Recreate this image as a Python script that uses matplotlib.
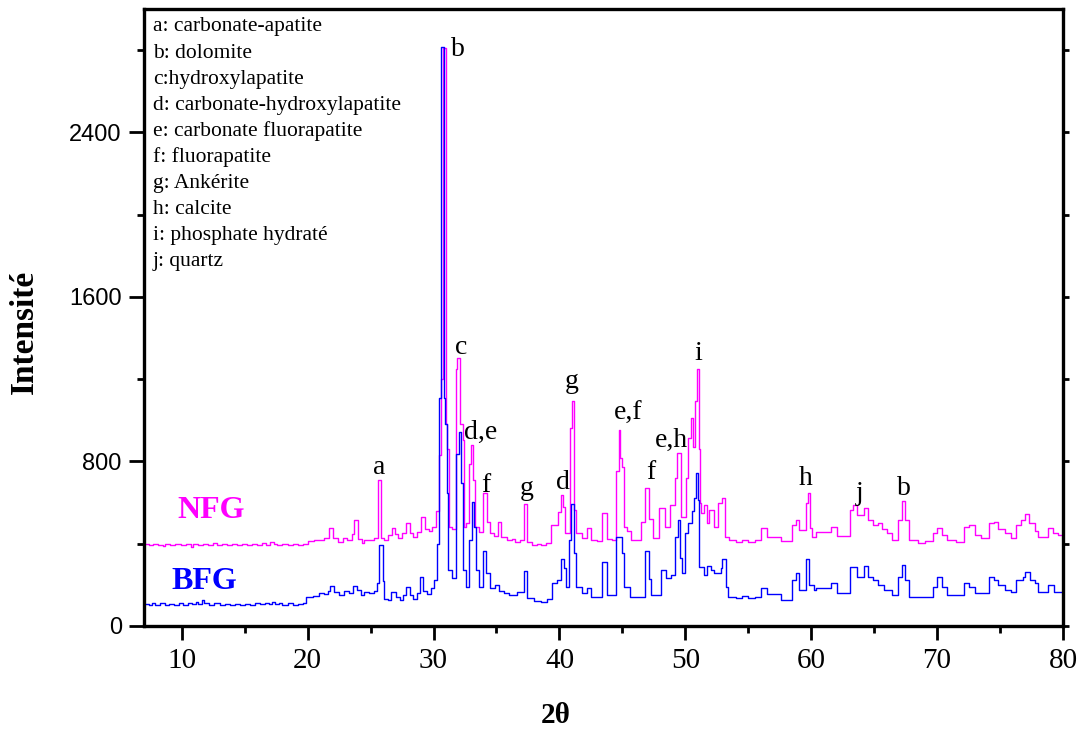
import matplotlib
matplotlib.use("Agg")
import matplotlib.pyplot as plt
from matplotlib.ticker import MultipleLocator

# ---------------- data ----------------
nfg_2theta = [7.0, 7.4, 7.7, 8.1, 8.5, 8.7, 9.1, 9.5, 9.9, 10.3, 10.7, 10.9, 11.3, 11.7, 12.1, 12.5,
              12.8, 13.2, 13.6, 14.0, 14.4, 14.8, 15.2, 15.6, 16.0, 16.4, 16.7, 17.0, 17.3, 17.6, 18.0,
              18.4, 18.8, 19.2, 19.6, 20.0, 20.5, 20.9, 21.3, 21.7, 22.0, 22.4, 22.8, 23.1, 23.5, 23.7,
              24.0, 24.3, 24.5, 24.9, 25.3, 25.6, 25.85, 26.1, 26.4, 26.7, 26.9, 27.2, 27.5, 27.8, 28.1,
              28.4, 28.7, 29.0, 29.3, 29.6, 29.9, 30.2, 30.4, 30.6, 30.75, 31.0, 31.1, 31.2, 31.5, 31.75,
              31.9, 32.1, 32.3, 32.4, 32.6, 32.8, 33.0, 33.15, 33.3, 33.6, 33.95, 34.25, 34.45, 34.8,
              35.15, 35.35, 35.8, 36.2, 36.5, 36.9, 37.2, 37.45, 37.8, 38.2, 38.5, 38.9, 39.3, 39.85,
              40.1, 40.3, 40.45, 40.8, 41.0, 41.15, 41.35, 41.8, 42.2, 42.5, 43.0, 43.35, 43.8, 44.2,
              44.5, 44.75, 44.85, 45.0, 45.15, 45.4, 45.7, 46.5, 46.8, 47.1, 47.4, 47.9, 48.4, 48.8,
              49.2, 49.35, 49.65, 50.05, 50.25, 50.45, 50.6, 50.75, 50.9, 51.05, 51.15, 51.25, 51.45,
              51.7, 51.9, 52.3, 52.6, 52.95, 53.15, 53.5, 54.0, 54.5, 55.0, 55.5, 56.0, 56.45, 57.6,
              58.5, 58.8, 59.0, 59.6, 59.75, 59.9, 60.1, 60.4, 61.6, 62.05, 63.1, 63.35, 63.65, 64.2,
              64.55, 64.9, 65.3, 65.6, 66.0, 66.4, 66.9, 67.25, 67.45, 67.75, 68.5, 69.0, 69.7, 70.0,
              70.35, 70.8, 71.5, 72.1, 72.5, 73.0, 73.5, 74.15, 74.5, 74.8, 75.4, 75.9, 76.25, 76.7,
              77.0, 77.3, 77.8, 78.0, 78.8, 79.2, 79.6, 80.0]
nfg_intensity = [398, 392, 401, 394, 388, 400, 394, 401, 393, 399, 386, 397, 392, 400, 394, 402,
                 396, 401, 394, 400, 393, 399, 394, 401, 395, 402, 396, 408, 401, 394, 400,
                 393, 399, 394, 398, 414, 420, 416, 428, 478, 426, 410, 430, 420, 446, 514,
                 422, 402, 420, 418, 428, 712, 430, 416, 442, 476, 446, 426, 452, 502, 452,
                 432, 456, 530, 470, 460, 482, 560, 830, 1200, 2810, 980, 860, 480, 470, 1250,
                 1304, 984, 902, 480, 500, 790, 882, 708, 480, 456, 645, 504, 451, 440,
                 504, 431, 417, 425, 410, 420, 591, 407, 395, 400, 393, 402, 490, 553,
                 635, 577, 451, 965, 1096, 562, 451, 430, 475, 417, 415, 548, 425, 417,
                 756, 955, 819, 771, 480, 460, 417, 504, 669, 520, 430, 572, 480, 587,
                 722, 839, 530, 722, 916, 1013, 868, 1096, 1251, 863, 596, 548, 587,
                 499, 562, 480, 596, 620, 431, 417, 410, 418, 408, 416, 475, 431, 412,
                 490, 514, 465, 600, 645, 475, 431, 456, 480, 437, 562, 587, 538, 572,
                 514, 490, 500, 470, 451, 420, 514, 606, 514, 417, 405, 412, 451, 475,
                 441, 417, 410, 480, 490, 441, 430, 499, 504, 470, 451, 430, 490, 515,
                 543, 500, 460, 431, 475, 451, 441, 441]

bfg_2theta = [7.0, 7.4, 7.6, 7.9, 8.3, 8.7, 9.0, 9.4, 9.8, 10.1, 10.5, 10.8, 11.1, 11.3, 11.6, 11.8,
              12.2, 12.6, 13.0, 13.4, 13.8, 14.2, 14.6, 15.0, 15.4, 15.8, 16.2, 16.6, 16.9, 17.2, 17.4,
              17.7, 18.0, 18.4, 18.8, 19.2, 19.6, 19.9, 20.4, 20.9, 21.3, 21.6, 21.8, 22.1, 22.5, 22.9,
              23.3, 23.6, 23.95, 24.2, 24.5, 24.9, 25.3, 25.5, 25.65, 25.95, 26.1, 26.4, 26.6, 27.0,
              27.3, 27.6, 27.85, 28.1, 28.4, 28.7, 28.95, 29.2, 29.5, 29.8, 30.0, 30.25, 30.45, 30.6,
              30.8, 30.9, 31.05, 31.15, 31.45, 31.75, 32.0, 32.2, 32.35, 32.6, 32.85, 33.05, 33.2,
              33.35, 33.6, 33.95, 34.15, 34.45, 34.9, 35.2, 35.6, 36.0, 36.6, 37.2, 37.45, 38.0, 38.5,
              39.0, 39.4, 39.8, 40.1, 40.35, 40.5, 40.75, 40.95, 41.15, 41.35, 41.8, 42.2, 42.5, 43.35,
              43.8, 44.5, 44.95, 45.1, 45.6, 46.8, 47.1, 47.3, 48.1, 48.5, 48.9, 49.2, 49.45, 49.6,
              49.75, 50.0, 50.25, 50.5, 50.7, 50.85, 51.0, 51.1, 51.45, 51.7, 52.0, 52.3, 52.8, 52.95,
              53.2, 53.4, 54.0, 54.5, 55.0, 55.5, 56.0, 56.45, 57.6, 58.5, 58.8, 59.0, 59.6, 59.85,
              60.2, 60.4, 61.6, 62.05, 63.1, 63.6, 64.2, 64.55, 64.9, 65.3, 65.8, 66.4, 66.9, 67.25,
              67.45, 67.75, 69.7, 70.0, 70.4, 70.8, 72.1, 72.5, 73.0, 74.15, 74.5, 74.8, 75.4, 75.9,
              76.3, 76.8, 77.0, 77.4, 77.8, 78.0, 78.8, 79.3, 80.0]
bfg_intensity = [108, 102, 112, 104, 110, 103, 109, 102, 111, 104, 112, 106, 118, 108, 124, 110,
                 104, 110, 103, 108, 102, 109, 103, 109, 104, 110, 105, 112, 106, 118, 108,
                 114, 104, 110, 103, 109, 112, 140, 148, 160, 158, 172, 196, 165, 150, 168,
                 160, 196, 174, 150, 165, 162, 168, 210, 393, 220, 130, 126, 165, 140,
                 128, 150, 189, 150, 132, 160, 238, 170, 155, 185, 223, 400, 1110, 2817,
                 1110, 984, 645, 271, 233, 838, 941, 693, 271, 189, 417, 601, 480,
                 271, 189, 364, 257, 184, 200, 170, 160, 150, 165, 267, 136, 120, 116,
                 130, 208, 223, 325, 280, 189, 417, 591, 354, 189, 160, 184, 141, 310,
                 150, 431, 354, 189, 141, 364, 230, 150, 271, 233, 250, 431, 514, 330,
                 257, 451, 500, 560, 620, 742, 611, 286, 250, 290, 271, 257, 280, 325,
                 190, 141, 136, 145, 136, 143, 184, 155, 128, 223, 257, 175, 325, 200,
                 175, 184, 208, 160, 286, 240, 291, 238, 223, 200, 175, 150, 238, 296,
                 223, 141, 189, 238, 189, 150, 208, 190, 160, 238, 223, 200, 175, 165,
                 223, 240, 262, 225, 210, 165, 199, 165, 160]

peak_labels = ["a", "b", "c", "d,e", "f", "g", "d", "g", "e,f", "f", "e,h", "i", "h", "j", "b"]
peak_label_x = [25.65, 31.9, 32.16, 33.75, 34.15, 37.4, 40.26, 40.98, 45.5, 47.25, 48.92, 51.06, 59.56, 63.85, 67.35]
peak_label_y = [771, 2802, 1353, 940, 684, 669, 698, 1188, 1033, 747, 902, 1323, 718, 645, 669]

legend_lines = ["a: carbonate-apatite", "b: dolomite", "c:hydroxylapatite",
                "d: carbonate-hydroxylapatite", "e: carbonate fluorapatite", "f: fluorapatite",
                "g: Ankérite", "h: calcite", "i: phosphate hydraté", "j: quartz"]

x_ticks = [10, 20, 30, 40, 50, 60, 70, 80]
y_ticks = [0, 800, 1600, 2400]

# ---------------- figure ----------------
SERIF = "Liberation Serif"
SANS = "Liberation Sans"

fig = plt.figure(figsize=(10.85, 7.29), dpi=100)
ax = fig.add_axes([144 / 1085, 1 - 626 / 729, (1063 - 144) / 1085, (626 - 9) / 729])

ax.plot(nfg_2theta, nfg_intensity, drawstyle="steps-post", color="#FF00FF", lw=1.0)
ax.plot(bfg_2theta, bfg_intensity, drawstyle="steps-post", color="#0000FF", lw=1.0)

ax.set_xlim(7, 80)
ax.set_ylim(0, 3000)
ax.set_xticks(x_ticks)
ax.set_yticks(y_ticks)
ax.xaxis.set_minor_locator(MultipleLocator(5))
ax.yaxis.set_minor_locator(MultipleLocator(400))

for sp in ax.spines.values():
    sp.set_linewidth(2.4)

ax.tick_params(axis="x", which="major", direction="out", length=10, width=2, pad=6)
ax.tick_params(axis="x", which="minor", direction="out", length=5, width=2)
ax.tick_params(axis="y", which="major", direction="out", length=11, width=2, pad=5,
               right=True)
ax.tick_params(axis="y", which="minor", direction="out", length=5, width=2, right=True)
for t in ax.yaxis.get_major_ticks():
    t.tick2line.set_markersize(4)
for t in ax.yaxis.get_minor_ticks():
    t.tick2line.set_markersize(4)

for lab in ax.get_xticklabels():
    lab.set_fontfamily(SERIF)
    lab.set_fontsize(21)
for lab in ax.get_yticklabels():
    lab.set_fontfamily(SANS)
    lab.set_fontsize(17)

ax.set_xlabel("2θ", fontfamily=SERIF, fontsize=21, fontweight="bold")
ax.xaxis.set_label_coords((556 - 144) / 919, (626 - 702) / 617)
ax.set_ylabel("Intensité", fontfamily=SERIF, fontsize=24, fontweight="bold")
ax.yaxis.set_label_coords((40 - 144) / 919, (626 - 332) / 617)

for txt, xx, yy in zip(peak_labels, peak_label_x, peak_label_y):
    ax.text(xx, yy, txt, ha="center", va="center", fontfamily=SERIF, fontsize=20)

ax.text(12.3, 560, "NFG", color="#FF00FF", ha="center", va="center",
        fontfamily=SERIF, fontsize=23, fontweight="bold")
ax.text(11.8, 218, "BFG", color="#0000FF", ha="center", va="center",
        fontfamily=SERIF, fontsize=23, fontweight="bold")

for i, line in enumerate(legend_lines):
    fig.text(153 / 1085, 1 - (27 + 26.1 * i) / 729, line, ha="left", va="center",
             fontfamily=SERIF, fontsize=15.5)

fig.savefig("out.png", dpi=100)
